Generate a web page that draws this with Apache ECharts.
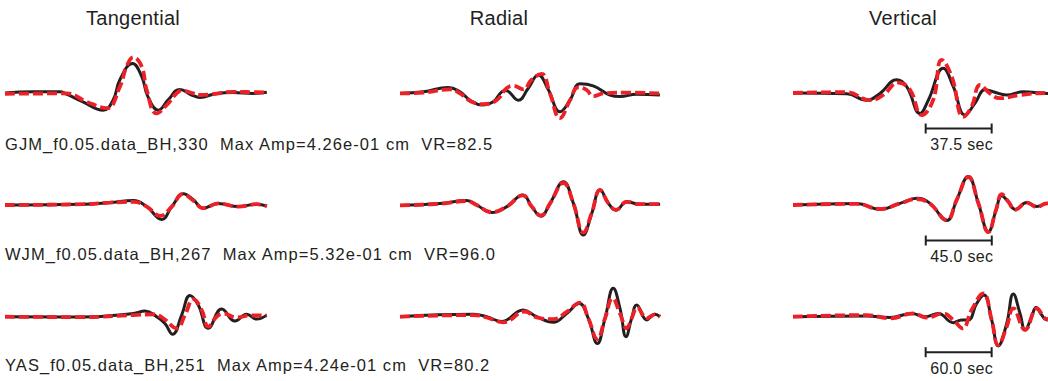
<!DOCTYPE html>
<html>
<head>
<meta charset="utf-8">
<script src="https://cdn.jsdelivr.net/npm/echarts@6/dist/echarts.min.js"></script>
<style>
html,body{margin:0;padding:0;background:#fff;}
#chart{width:1048px;height:381px;}
</style>
</head>
<body>
<div id="chart"></div>
<script>
// ---------- DATA ----------
const components = ['Tangential', 'Radial', 'Vertical'];
const stations = ['GJM', 'WJM', 'YAS'];
const azimuths = [330, 267, 251];
const maxAmps = ['4.26e-01', '5.32e-01', '4.24e-01'];
const varianceReductions = ['82.5', '96.0', '80.2'];
const scaleBarSec = [37.5, 45.0, 60.0];          // length of scale bar (s)
const scaleBarStart = [75.4, 90.5, 120.6];       // start time of scale bar (s)
const windowSec = [148.9, 178.6, 238.2];         // trace window length (s)

// Observed (black) and synthetic (red) traces: [time s, normalized amplitude]
const GJM_T_obs = [[0,0],[15.9,0.03],[31.2,0.03],[35,-0.03],[44.3,-0.22],[55.7,-0.43],[61.4,-0.18],[65.3,0.33],[72.5,0.74],[77.7,0.41],[81.2,-0.09],[87.1,-0.43],[92.6,-0.18],[99.4,0.09],[106.1,-0.05],[110.8,-0.11],[120.3,-0.01],[129.5,0.01],[140.9,-0.01],[148.8,0.02]];
const GJM_T_syn = [[0,-0.02],[35,-0.01],[46.4,-0.22],[57.8,-0.38],[65.3,0.16],[69.1,0.66],[72.9,0.89],[77.7,0.66],[80.5,0.08],[86.2,-0.51],[91.9,-0.3],[97.5,-0.01],[100.4,0.06],[107,-0.01],[110.8,-0.05],[118.3,-0.03],[129.7,0.03],[141.1,0.02],[148.7,0.01]];
const GJM_R_obs = [[0,-0.01],[13.3,0.03],[27.4,0.14],[34.1,0.03],[39.8,-0.18],[46.4,-0.3],[53,-0.22],[57.8,0.03],[60.2,0.06],[67.2,-0.18],[72.9,0.12],[78.6,0.45],[84.3,0.08],[90.9,-0.47],[96.6,-0.18],[102.2,0.23],[109.8,0.18],[119.3,-0.05],[125,-0.09],[134.5,-0.03],[147.7,-0.05]];
const GJM_R_syn = [[0,-0.01],[13.3,0.01],[28.4,0.09],[34.1,-0.01],[40.7,-0.22],[47.3,-0.28],[54.9,-0.18],[60.6,0.12],[64.4,0.18],[70.1,0.09],[74.8,0.33],[80.5,0.48],[85.2,-0.01],[90.9,-0.63],[96.6,-0.18],[101.3,0.14],[106,0.08],[109.8,-0.08],[115.5,-0.01],[126.9,0.01],[147.7,-0.01]];
const GJM_Z_obs = [[0,0],[30.5,-0.02],[41.9,-0.18],[49.4,-0.01],[58.9,0.33],[64.6,0.16],[72.2,-0.51],[76.9,-0.18],[85.4,0.62],[91.1,0.16],[97.7,-0.55],[103.4,-0.26],[109.1,0.08],[113.8,0.03],[121.4,-0.05],[130.9,0.03],[144.1,-0.01],[148.9,0]];
const GJM_Z_syn = [[0,0],[30.5,0.02],[43.8,-0.18],[51.3,-0.05],[59.8,0.26],[66.5,0.08],[73.1,-0.55],[79.6,-0.18],[84.5,0.83],[90.2,0.41],[96.8,-0.59],[101.5,-0.34],[106.3,0.2],[111.9,-0.01],[117.6,-0.13],[129,-0.05],[144.1,0],[148.9,0]];

const WJM_T_obs = [[0,0],[53.4,0.02],[71.6,0.06],[87.5,0.11],[96.6,-0.04],[106.9,-0.36],[113.7,-0.04],[121.6,0.28],[128.4,0.13],[135.2,-0.08],[145.5,0.04],[159.1,-0.04],[171.7,0.02],[178.5,-0.03]];
const WJM_T_syn = [[0,0],[53.4,0.02],[71.6,0.06],[87.5,0.08],[96.6,-0.04],[105.7,-0.27],[113.7,-0.04],[121.2,0.27],[128.4,0.11],[135.2,-0.08],[145.5,0.04],[159.1,-0.04],[171.7,0.02],[178.5,-0.03]];
const WJM_R_obs = [[0,-0.01],[27.3,0.04],[45.5,0.11],[52.3,0],[62.5,-0.19],[72.8,-0.04],[83.7,0.25],[89.8,-0.04],[96,-0.28],[102.3,0.04],[111.4,0.58],[118.2,0.04],[125,-0.75],[130.7,-0.21],[136.4,0.38],[142.1,0.04],[147.3,-0.13],[154.6,0.08],[163.6,0.02],[177.3,0.02]];
const WJM_R_syn = [[0,-0.01],[27.3,0.03],[45.5,0.1],[52.3,0],[62.5,-0.18],[72.8,-0.04],[83.7,0.24],[89.8,-0.04],[96,-0.26],[102.3,0.04],[111.4,0.55],[118.2,0.04],[125,-0.69],[130.7,-0.2],[136.4,0.37],[142.1,0.04],[147.3,-0.12],[154.6,0.08],[163.6,0.02],[177.3,0.02]];
const WJM_Z_obs = [[0,0],[43.4,0.04],[59.3,-0.11],[73,0.04],[84.4,0.17],[93.4,0.04],[104.8,-0.39],[111.6,0.13],[119.5,0.71],[126.4,0.04],[133.2,-0.67],[138.4,-0.13],[142.3,0.23],[146.8,0.08],[151.4,-0.11],[159.4,0.06],[166.2,-0.04],[173,0.04],[178.6,0]];
const WJM_Z_syn = [[0,0],[43.4,0.03],[59.3,-0.1],[73,0.04],[84.4,0.15],[93.4,0.03],[104.8,-0.37],[111.6,0.13],[119.5,0.7],[126.4,0.04],[133.2,-0.68],[138.4,-0.12],[142.3,0.27],[146.8,0.08],[151.4,-0.12],[159.4,0.06],[166.2,-0.05],[173,0.04],[178.6,0]];

const YAS_T_obs = [[0,0],[71.2,-0.01],[116.7,0.08],[127.3,0.14],[137.9,0],[145.4,-0.17],[152.4,-0.44],[160.6,0.04],[168.2,0.53],[175.7,0.29],[184.8,-0.29],[197,0.19],[209.1,-0.11],[219.7,0.06],[228.8,-0.06],[237.9,0.04]];
const YAS_T_syn = [[0,0],[71.2,-0.01],[116.7,0.04],[134.8,0.06],[143.9,-0.04],[156.1,-0.29],[163.6,0.04],[171.2,0.44],[178.8,0.17],[184.8,-0.25],[192.4,0],[198.5,0.08],[210.6,-0.02],[222.7,0.03],[237.9,0.03]];
const YAS_R_obs = [[0,0],[66.7,0.06],[78.8,0],[92.4,-0.12],[112.1,0.17],[124.2,0],[139.4,-0.14],[151.5,0.08],[163,0.33],[171.2,-0.04],[179.4,-0.67],[186.4,-0.04],[193.9,0.71],[200,0.21],[205.5,-0.5],[210.6,-0.04],[215.2,0.29],[224.3,-0.08],[231.8,0.06],[236.4,0]];
const YAS_R_syn = [[0,0],[66.7,0.04],[78.8,-0.02],[93.9,-0.14],[113.6,0.13],[124.2,-0.02],[139.4,-0.06],[151.5,0.12],[163.6,0.35],[171.2,-0.04],[179.4,-0.56],[186.4,-0.04],[193.3,0.46],[200,0.08],[206.1,-0.29],[210.6,-0.04],[215.8,0.23],[224.3,-0.04],[231.8,0.06],[236.4,0]];
const YAS_Z_obs = [[0,0],[67,0.02],[88.2,-0.02],[107.9,0.08],[120,0],[132.1,0.08],[145.7,-0.15],[153.3,-0.08],[159.4,-0.08],[167,0.33],[173.6,0.54],[180.6,-0.08],[186.6,-0.73],[194.3,-0.17],[200.3,0.57],[206.4,0.08],[211,-0.33],[217,0],[220.9,0.23],[226.1,0.04],[230.6,-0.08],[238.2,0]];
const YAS_Z_syn = [[0,0],[67,0.04],[88.2,-0.04],[109.4,0.08],[121.5,-0.02],[136.6,0.08],[145.7,-0.08],[154.2,-0.29],[162.4,0.17],[173,0.58],[180.6,-0.08],[186.6,-0.71],[194.3,-0.25],[200.3,0.21],[211,-0.33],[221.8,0.21],[227.8,0],[230.6,-0.06],[238.2,0]];

const observed = [[GJM_T_obs, GJM_R_obs, GJM_Z_obs],[WJM_T_obs, WJM_R_obs, WJM_Z_obs],[YAS_T_obs, YAS_R_obs, YAS_Z_obs]];
const synthetic = [[GJM_T_syn, GJM_R_syn, GJM_Z_syn],[WJM_T_syn, WJM_R_syn, WJM_Z_syn],[YAS_T_syn, YAS_R_syn, YAS_Z_syn]];

// ---------- LAYOUT ----------
const CANVAS_W = 1048;
const colLeft = [5, 400, 793];
const panelW = 262;
const rowBase = [93, 205, 316.7];
const halfH = 40;
const FONT = '"Liberation Sans", Arial, Helvetica, sans-serif';
const BLACK = '#231f20';
const RED = '#ec2027';

const grids = [], xAxes = [], yAxes = [], series = [];
let gi = 0;
for (let r = 0; r < 3; r++) {
  for (let c = 0; c < 3; c++) {
    // the right-hand column runs off the page edge: only the visible part of the window is laid out
    const w = Math.min(panelW, CANVAS_W - colLeft[c]);
    grids.push({left: colLeft[c], top: rowBase[r] - halfH, width: w, height: 2 * halfH, containLabel: false});
    xAxes.push({type: 'value', gridIndex: gi, min: 0, max: windowSec[r] * w / panelW, show: false});
    yAxes.push({type: 'value', gridIndex: gi, min: -1, max: 1, show: false});
    series.push({type: 'line', xAxisIndex: gi, yAxisIndex: gi, data: observed[r][c], smooth: 0.45,
      showSymbol: false, symbol: 'none', lineStyle: {color: BLACK, width: 3}, z: 2, animation: false});
    series.push({type: 'line', xAxisIndex: gi, yAxisIndex: gi, data: synthetic[r][c], smooth: 0.45,
      showSymbol: false, symbol: 'none', lineStyle: {color: RED, width: 3.8, type: [10, 4], cap: 'butt'}, z: 3, animation: false});
    if (c === 2) {
      const label = scaleBarSec[r].toFixed(1) + ' sec';
      series.push({type: 'custom', xAxisIndex: gi, yAxisIndex: gi, clip: false, z: 4, animation: false,
        data: [[scaleBarStart[r], scaleBarStart[r] + scaleBarSec[r]]],
        renderItem: function (params, api) {
          const p0 = api.coord([api.value(0), 0]);
          const p1 = api.coord([api.value(1), 0]);
          const yb = p0[1] + 35.5;
          const st = {stroke: BLACK, lineWidth: 2};
          return {type: 'group', children: [
            {type: 'line', shape: {x1: p0[0], y1: yb, x2: p1[0], y2: yb}, style: st},
            {type: 'line', shape: {x1: p0[0], y1: yb - 5, x2: p0[0], y2: yb + 5}, style: st},
            {type: 'line', shape: {x1: p1[0], y1: yb - 5, x2: p1[0], y2: yb + 5}, style: st},
            {type: 'text', style: {text: label, x: (p0[0] + p1[0]) / 2 + 3, y: yb + 16, fill: BLACK,
              font: '16px ' + FONT, align: 'center', verticalAlign: 'middle'}}
          ]};
        }});
    }
    gi++;
  }
}

const graphics = [];
const titleX = [133, 499, 903];
components.forEach((t, i) => graphics.push({type: 'text', x: titleX[i], y: 18,
  style: {text: t, font: '20px ' + FONT, fill: BLACK, align: 'center', verticalAlign: 'middle'}}));
const labelY = [144, 254, 365];
const rowLabels = stations.map((s, r) => s + '_f0.05.data_BH,' + azimuths[r] + '  Max Amp=' + maxAmps[r] + ' cm  VR=' + varianceReductions[r]);
rowLabels.forEach((txt, r) => graphics.push({type: 'text', x: 5, y: labelY[r],
  style: {text: txt, font: '16.5px ' + FONT, fill: BLACK, align: 'left', verticalAlign: 'middle'}}));

const chart = echarts.init(document.getElementById('chart'), null, {renderer: 'svg'});
chart.setOption({backgroundColor: '#ffffff', animation: false, grid: grids, xAxis: xAxes, yAxis: yAxes,
  series: series, graphic: graphics});

// typographic tracking to match the reference typesetting
function applyTracking() {
  document.querySelectorAll('#chart text').forEach(function (el) {
    const s = el.textContent;
    if (rowLabels.indexOf(s) >= 0) el.style.letterSpacing = '1.05px';
    else if (components.indexOf(s) >= 0) el.style.letterSpacing = '0.3px';
    else if (/sec$/.test(s)) el.style.letterSpacing = '0.3px';
  });
}
applyTracking();
chart.on('finished', applyTracking);
</script>
</body>
</html>
